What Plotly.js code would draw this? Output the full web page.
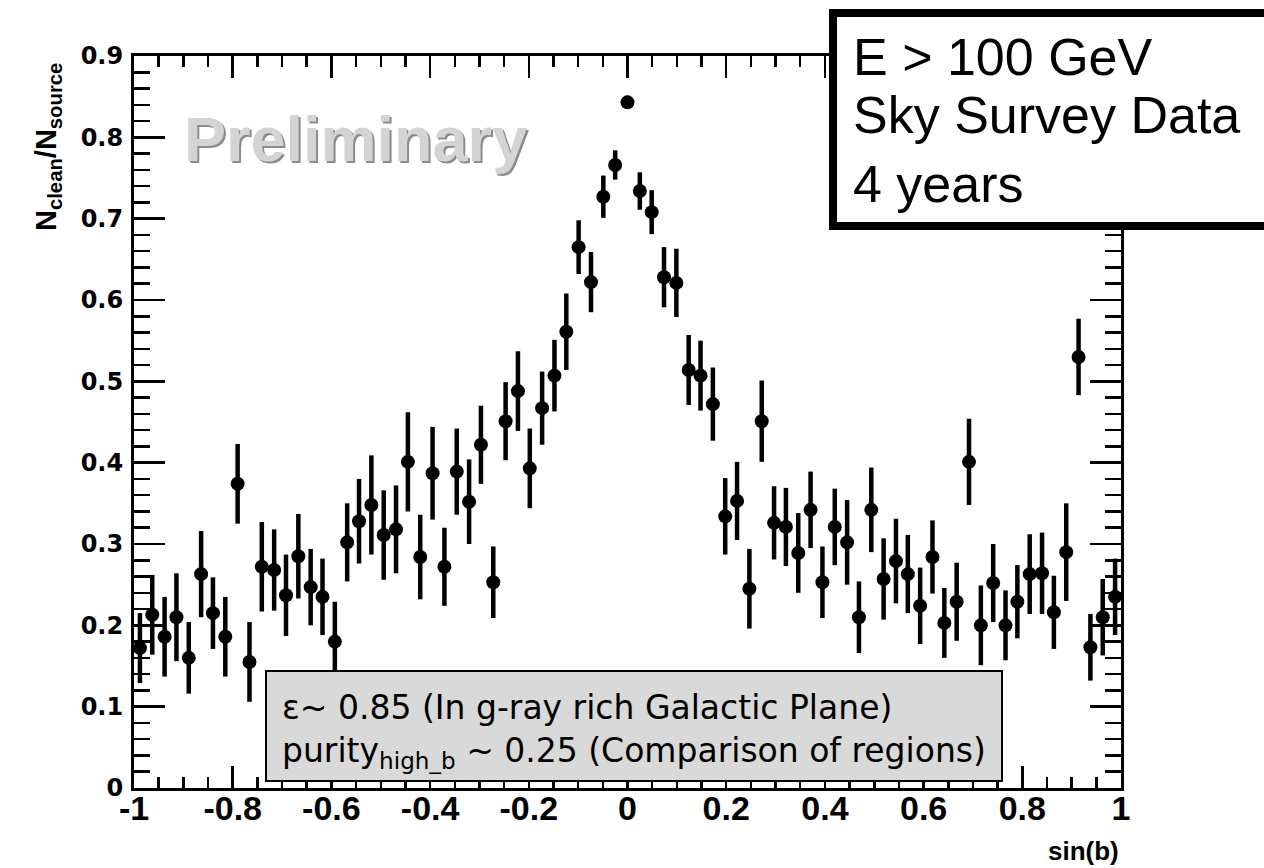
<!DOCTYPE html>
<html>
<head>
<meta charset="utf-8">
<script src="https://cdn.plot.ly/plotly-3.0.1.min.js"></script>
<style>html,body{margin:0;padding:0;background:#fff;}#chart{width:1264px;height:868px;}</style>
</head>
<body>
<div id="chart"></div>
<script>
// sin(b) bin centres
const sinB = [-0.988, -0.963, -0.938, -0.914, -0.889, -0.864, -0.840, -0.815, -0.790, -0.766,
  -0.741, -0.716, -0.692, -0.667, -0.642, -0.618, -0.593, -0.568, -0.544, -0.519,
  -0.494, -0.469, -0.445, -0.420, -0.395, -0.371, -0.346, -0.321, -0.297, -0.272,
  -0.247, -0.222, -0.198, -0.173, -0.148, -0.124, -0.099, -0.074, -0.049, -0.025,
  0,
  0.025, 0.049, 0.074, 0.099, 0.124, 0.148, 0.173, 0.198, 0.222, 0.247,
  0.272, 0.297, 0.321, 0.346, 0.371, 0.395, 0.420, 0.445, 0.469, 0.494,
  0.519, 0.544, 0.568, 0.593, 0.618, 0.642, 0.667, 0.692, 0.716, 0.741,
  0.766, 0.790, 0.815, 0.840, 0.864, 0.889, 0.914, 0.938, 0.963, 0.988];

// N_clean / N_source
const ratio = [0.172, 0.213, 0.186, 0.210, 0.160, 0.263, 0.215, 0.186, 0.374, 0.155,
  0.272, 0.268, 0.237, 0.285, 0.247, 0.235, 0.180, 0.302, 0.328, 0.348,
  0.311, 0.318, 0.401, 0.284, 0.387, 0.272, 0.389, 0.352, 0.422, 0.253,
  0.451, 0.488, 0.393, 0.467, 0.507, 0.561, 0.665, 0.622, 0.727, 0.766,
  0.843,
  0.734, 0.708, 0.628, 0.621, 0.514, 0.507, 0.472, 0.334, 0.353, 0.245,
  0.451, 0.326, 0.321, 0.289, 0.342, 0.253, 0.321, 0.302, 0.210, 0.342,
  0.257, 0.279, 0.263, 0.224, 0.284, 0.203, 0.229, 0.401, 0.200, 0.252,
  0.200, 0.229, 0.263, 0.264, 0.216, 0.290, 0.530, 0.173, 0.210, 0.235];

// statistical errors
const ratioErr = [0.043, 0.049, 0.049, 0.054, 0.044, 0.053, 0.044, 0.049, 0.049, 0.049,
  0.055, 0.050, 0.050, 0.052, 0.047, 0.047, 0.049, 0.048, 0.052, 0.061,
  0.055, 0.054, 0.061, 0.052, 0.057, 0.048, 0.053, 0.052, 0.048, 0.044,
  0.048, 0.049, 0.049, 0.045, 0.044, 0.047, 0.033, 0.037, 0.026, 0.018,
  0.008,
  0.023, 0.027, 0.037, 0.042, 0.043, 0.043, 0.045, 0.047, 0.048, 0.049,
  0.050, 0.045, 0.048, 0.049, 0.047, 0.044, 0.047, 0.052, 0.044, 0.052,
  0.050, 0.052, 0.048, 0.047, 0.045, 0.043, 0.048, 0.053, 0.049, 0.048,
  0.043, 0.045, 0.049, 0.050, 0.045, 0.060, 0.047, 0.041, 0.047, 0.047];

const xTickVals = [-1, -0.8, -0.6, -0.4, -0.2, 0, 0.2, 0.4, 0.6, 0.8, 1];
const xTickText = ["-1", "-0.8", "-0.6", "-0.4", "-0.2", "0", "0.2", "0.4", "0.6", "0.8", "1"];
const yTickVals = [0, 0.1, 0.2, 0.3, 0.4, 0.5, 0.6, 0.7, 0.8, 0.9];
const yTickText = ["0", "0.1", "0.2", "0.3", "0.4", "0.5", "0.6", "0.7", "0.8", "0.9"];

const infoLines = ["E > 100 GeV", "Sky Survey Data", "4 years"];
const noteLines = ["\u03B5~ 0.85 (In g-ray rich Galactic Plane)",
  "purity<sub>high_b</sub> ~ 0.25 (Comparison of regions)"];

const L = 134, R = 1121, T = 56, B = 788, W = 1264, H = 868;
const pw = R - L, ph = B - T;
const px = v => (v - L) / pw;
const py = v => (B - v) / ph;

const data = [
  {
    x: sinB, y: ratio, type: 'scatter', mode: 'markers',
    marker: {color: '#000', size: 14},
    error_y: {type: 'data', array: ratioErr, visible: true, color: '#000', thickness: 4.5, width: 0},
    hoverinfo: 'x+y', cliponaxis: false, showlegend: false
  },
  {
    x: [null], y: [null], xaxis: 'x2', yaxis: 'y2', type: 'scatter', mode: 'markers',
    hoverinfo: 'skip', showlegend: false
  }
];

const tickFontX = {family: 'Liberation Sans, Arial, sans-serif', size: 34, color: '#000', weight: 700};
const tickFontY = {family: 'DejaVu Sans, sans-serif', size: 24, color: '#000', weight: 700};

const layout = {
  width: W, height: H,
  margin: {l: L, r: W - R, t: T, b: H - B, pad: 0},
  paper_bgcolor: '#fff', plot_bgcolor: '#fff',
  showlegend: false,
  xaxis: {
    range: [-1, 1], showgrid: false, zeroline: false,
    showline: true, linecolor: '#000', linewidth: 3, mirror: true,
    ticks: 'inside', ticklen: 22, tickwidth: 2.5, tickcolor: '#000',
    tickmode: 'array', tickvals: xTickVals, ticktext: xTickText,
    tickfont: tickFontX, ticklabelstandoff: -12,
    minor: {ticks: 'inside', ticklen: 11, tickwidth: 2.5, tickcolor: '#000', dtick: 0.05, showgrid: false}
  },
  yaxis: {
    range: [0, 0.9], showgrid: false, zeroline: false,
    showline: true, linecolor: '#000', linewidth: 3, mirror: true,
    ticks: 'inside', ticklen: 31, tickwidth: 2.5, tickcolor: '#000',
    tickmode: 'array', tickvals: yTickVals, ticktext: yTickText,
    tickfont: tickFontY, ticklabelstandoff: 3,
    minor: {ticks: 'inside', ticklen: 16, tickwidth: 2.5, tickcolor: '#000', dtick: 0.02, showgrid: false}
  },
  xaxis2: {
    overlaying: 'x', side: 'top', anchor: 'y2', range: [-1, 1],
    showgrid: false, zeroline: false, showline: false, showticklabels: false,
    ticks: 'inside', ticklen: 22, tickwidth: 2.5, tickcolor: '#000', dtick: 0.2, tick0: 0,
    minor: {ticks: 'inside', ticklen: 11, tickwidth: 2.5, tickcolor: '#000', dtick: 0.05, showgrid: false}
  },
  yaxis2: {
    overlaying: 'y', side: 'right', anchor: 'x2', range: [0, 0.9],
    showgrid: false, zeroline: false, showline: false, showticklabels: false,
    ticks: 'inside', ticklen: 31, tickwidth: 2.5, tickcolor: '#000', dtick: 0.1, tick0: 0,
    minor: {ticks: 'inside', ticklen: 16, tickwidth: 2.5, tickcolor: '#000', dtick: 0.02, showgrid: false}
  },
  shapes: [
    {type: 'rect', xref: 'paper', yref: 'paper', layer: 'above',
     x0: px(833), x1: px(1290), y0: py(226), y1: py(13),
     fillcolor: '#fff', line: {color: '#000', width: 8}},
    {type: 'rect', xref: 'paper', yref: 'paper', layer: 'above',
     x0: px(266), x1: px(1002), y0: py(781), y1: py(671),
     fillcolor: '#d9d9d9', line: {color: '#000', width: 2}}
  ],
  annotations: [
    {xref: 'paper', yref: 'paper', x: px(48), y: py(147), xanchor: 'center', yanchor: 'middle',
     textangle: -90, showarrow: false,
     text: '<b>N<sub>clean</sub>/N<sub>source</sub></b>',
     font: {family: 'Liberation Sans, Arial, sans-serif', size: 29, color: '#000'}},
    {xref: 'paper', yref: 'paper', x: px(1121), y: py(851), xanchor: 'right', yanchor: 'middle',
     showarrow: false, text: '<b>sin(b)</b>',
     font: {family: 'Liberation Sans, Arial, sans-serif', size: 26, color: '#000'}},
    {xref: 'paper', yref: 'paper', x: px(355), y: py(139), xanchor: 'center', yanchor: 'middle',
     showarrow: false, text: '<b>Preliminary</b>',
     font: {family: 'Liberation Sans, Arial, sans-serif', size: 63, color: '#d4d4d4',
            shadow: '2px 2px 0px #8c8c8c'}},
    {xref: 'paper', yref: 'paper', x: px(851), y: py(57), xanchor: 'left', yanchor: 'middle',
     showarrow: false, text: infoLines[0],
     font: {family: 'Liberation Sans, Arial, sans-serif', size: 52, color: '#000'}},
    {xref: 'paper', yref: 'paper', x: px(851), y: py(115), xanchor: 'left', yanchor: 'middle',
     showarrow: false, text: infoLines[1],
     font: {family: 'Liberation Sans, Arial, sans-serif', size: 52, color: '#000'}},
    {xref: 'paper', yref: 'paper', x: px(851), y: py(184), xanchor: 'left', yanchor: 'middle',
     showarrow: false, text: infoLines[2],
     font: {family: 'Liberation Sans, Arial, sans-serif', size: 52, color: '#000'}},
    {xref: 'paper', yref: 'paper', x: px(280), y: py(707), xanchor: 'left', yanchor: 'middle',
     showarrow: false, text: noteLines[0],
     font: {family: 'DejaVu Sans, sans-serif', size: 33, color: '#000'}},
    {xref: 'paper', yref: 'paper', x: px(280), y: py(752), xanchor: 'left', yanchor: 'middle',
     showarrow: false, text: noteLines[1],
     font: {family: 'DejaVu Sans, sans-serif', size: 33, color: '#000'}}
  ]
};

Plotly.newPlot('chart', data, layout, {staticPlot: true, displayModeBar: false});
</script>
</body>
</html>
